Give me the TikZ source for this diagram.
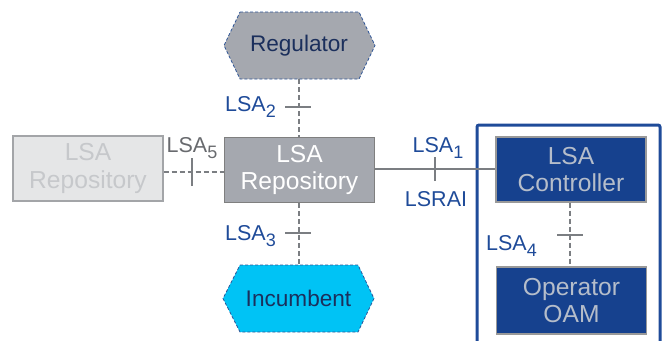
\documentclass[tikz,border=0pt]{standalone}
\usepackage{fontspec}
\setmainfont{Liberation Sans}
\definecolor{boxgray}{HTML}{A5A8AF}
\definecolor{edgegray}{HTML}{7F7F7F}
\definecolor{fadefill}{HTML}{E5E6E7}
\definecolor{fadeedge}{HTML}{A3A5A8}
\definecolor{fadetext}{HTML}{C6C8CB}
\definecolor{darkblue}{HTML}{16418E}
\definecolor{ctrltext}{HTML}{B5BDCA}
\definecolor{lblblue}{HTML}{1F4B99}
\definecolor{navytext}{HTML}{1B2F5C}
\definecolor{cyanfill}{HTML}{00C3F5}
\definecolor{hexedge}{HTML}{2E5597}
\definecolor{linegray}{HTML}{7B7E82}
\definecolor{lbl5gray}{HTML}{686A6E}
\newcommand{\lsasub}[1]{\raisebox{-6pt}{\fontsize{18}{18}\selectfont #1}}
\begin{document}
\begin{tikzpicture}[x=1pt,y=-1pt,
  boxtxt/.style={font=\fontsize{24.6}{27.5}\selectfont, align=center, inner sep=0pt},
  box/.style={boxtxt, draw, line width=1.3pt, minimum width=150pt, minimum height=65pt},
  centralbox/.style={box, fill=boxgray, draw=edgegray, text=white},
  fadebox/.style={box, fill=fadefill, draw=fadeedge, text=fadetext},
  bluebox/.style={box, fill=darkblue, draw=edgegray!80, text=ctrltext},
  hexshape/.style={draw=hexedge, densely dashed, line width=0.8pt},
  hextxt/.style={font=\fontsize{22.6}{26}\selectfont, text=navytext, inner sep=0pt, minimum width=118pt, minimum height=67pt},
  lbl/.style={font=\fontsize{21.5}{24}\selectfont, text=lblblue, inner sep=0pt},
  conn/.style={draw=linegray, line width=2pt},
  dconn/.style={conn, dash pattern=on 5pt off 3pt},
  tick/.style={draw=linegray, line width=2.2pt},
  frame/.style={draw=lblblue, line width=3pt, rounded corners=2pt}
]
\useasboundingbox (0,0) rectangle (663,340);
% blue frame
\draw[frame] (477,345) -- (477,125) -- (660,125) -- (660,345);
% hexagons
\fill[boxgray] (240,12) -- (359,12) -- (375,45.5) -- (359,79) -- (240,79) -- (224,45.5) -- cycle;
\draw[hexshape] (240,12) -- (359,12) -- (375,45.5) -- (359,79) -- (240,79) -- (224,45.5) -- cycle;
\fill[cyanfill] (240,265) -- (358,265) -- (374,298.5) -- (358,332) -- (240,332) -- (223,298.5) -- cycle;
\draw[hexshape] (240,265) -- (358,265) -- (374,298.5) -- (358,332) -- (240,332) -- (223,298.5) -- cycle;
\node[hextxt] (reg) at (299,45.5) {Regulator};
\node[hextxt] (inc) at (298.5,298.5) {Incumbent};
% boxes
\node[centralbox] (rep) at (299.5,170) {LSA\\Repository};
\node[fadebox] (frep) at (88,168.5) {LSA\\Repository};
\node[bluebox] (ctrl) at (571,169.5) {LSA\\Controller};
\node[bluebox, minimum height=67pt] (oam) at (571.5,300.5) {Operator\\OAM};
% connectors
\path[dconn] (reg.south) -- (rep.north -| reg.south);
\path[dconn] (rep.south -| inc.north) -- (inc.north);
\path[dconn] (frep.east |- 0,172) -- (rep.west |- 0,172);
\path[conn] (rep.east |- 0,169) -- (ctrl.west |- 0,169);
\path[dconn] (ctrl.south -| 570,0) -- (oam.north -| 570,0);
% ticks
\coordinate (t2) at (298,107);
\coordinate (t3) at (298,233);
\coordinate (t5) at (192,172);
\coordinate (t1) at (435,169);
\coordinate (t4) at (570,235);
\path[tick] ([xshift=-13pt]t2) -- ([xshift=13pt]t2);
\path[tick] ([xshift=-13pt]t3) -- ([xshift=13pt]t3);
\path[tick] ([xshift=-13pt]t4) -- ([xshift=13pt]t4);
\path[tick] ([yshift=-14pt]t5) -- ([yshift=14pt]t5);
\path[tick] ([yshift=-12pt]t1) -- ([yshift=12pt]t1);
% labels
\node[lbl, anchor=base east] (l2) at (276,111.5) {LSA\lsasub{2}};
\node[lbl, anchor=base east] (l3) at (276,240) {LSA\lsasub{3}};
\node[lbl, anchor=base east] (l4) at (537,250) {LSA\lsasub{4}};
\node[lbl, text=lbl5gray, anchor=base] (l5) at (192,152) {LSA\lsasub{5}};
\node[lbl, anchor=base] (l1) at (438,152) {LSA\lsasub{1}};
\node[lbl, anchor=base] (lr) at (436,206) {LSRAI};
\end{tikzpicture}
\end{document}
